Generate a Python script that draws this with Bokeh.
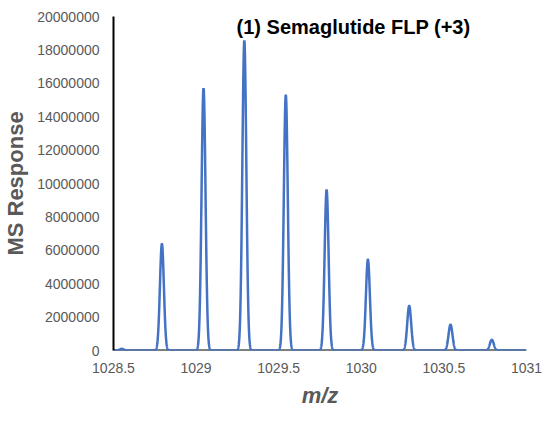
import numpy as np
from bokeh.plotting import figure
from bokeh.models import Range1d, FixedTicker, BasicTickFormatter, Label, Span
from bokeh.embed import file_html
from bokeh.resources import INLINE

# Peak centroids (m/z) and apex intensities
peak_mz = [1028.55, 1028.793, 1029.045, 1029.292, 1029.543, 1029.79, 1030.04, 1030.29, 1030.54, 1030.79]
peak_intensity = [100000, 6380000, 15700000, 18550000, 15300000, 9620000, 5450000, 2670000, 1550000, 640000]
peak_sigma = 0.012  # instrument peak width (profile shape)

x_ticks = [1028.5, 1029, 1029.5, 1030, 1030.5, 1031]
x_tick_labels = ["1028.5", "1029", "1029.5", "1030", "1030.5", "1031"]
y_ticks = [0, 2000000, 4000000, 6000000, 8000000, 10000000, 12000000,
           14000000, 16000000, 18000000, 20000000]

title_text = "(1) Semaglutide FLP (+3)"

# Profile spectrum built from the peak list
mz = np.linspace(x_ticks[0], x_ticks[-1], 5001)
resp = np.zeros_like(mz)
for c, h in zip(peak_mz, peak_intensity):
    resp += h * np.exp(-0.5 * ((mz - c) / peak_sigma) ** 2)

p = figure(frame_width=413, frame_height=334, output_backend="svg", toolbar_location=None,
           x_range=Range1d(x_ticks[0], x_ticks[-1]),
           y_range=Range1d(y_ticks[0], y_ticks[-1]),
           min_border_left=111, min_border_right=16, min_border_top=16, min_border_bottom=58)
p.outline_line_color = None
p.xgrid.visible = False
p.ygrid.visible = False
p.background_fill_color = "white"
p.border_fill_color = "white"

# baseline under the trace
p.add_layout(Span(location=0, dimension="width", line_color="black", line_width=2, level="underlay"))

p.line(mz, resp, line_color="#4472C4", line_width=2.5)

label_color = "#595959"
# x axis
p.xaxis.ticker = FixedTicker(ticks=x_ticks)
p.xaxis.major_label_overrides = {t: l for t, l in zip(x_ticks, x_tick_labels)}
p.xaxis.axis_line_color = None
p.xaxis.major_tick_line_color = None
p.xaxis.minor_tick_line_color = None
p.xaxis.major_tick_out = 0
p.xaxis.major_label_standoff = 12
p.xaxis.major_label_text_font = "Liberation Sans"
p.xaxis.major_label_text_font_size = "14px"
p.xaxis.major_label_text_color = label_color
p.xaxis.axis_label = "m/z"
p.xaxis.axis_label_text_font = "Liberation Sans"
p.xaxis.axis_label_text_font_size = "22px"
p.xaxis.axis_label_text_font_style = "bold italic"
p.xaxis.axis_label_text_color = label_color
p.xaxis.axis_label_standoff = 7

# y axis
p.yaxis.ticker = FixedTicker(ticks=y_ticks)
p.yaxis.formatter = BasicTickFormatter(use_scientific=False)
p.yaxis.axis_line_color = "black"
p.yaxis.axis_line_width = 2
p.yaxis.major_tick_line_color = None
p.yaxis.minor_tick_line_color = None
p.yaxis.major_tick_out = 0
p.yaxis.major_label_standoff = 14
p.yaxis.major_label_text_font = "Liberation Sans"
p.yaxis.major_label_text_font_size = "14px"
p.yaxis.major_label_text_color = label_color
p.yaxis.axis_label = "MS Response"
p.yaxis.axis_label_text_font = "Liberation Sans"
p.yaxis.axis_label_text_font_size = "22px"
p.yaxis.axis_label_text_font_style = "bold"
p.yaxis.axis_label_text_color = label_color
p.yaxis.axis_label_standoff = 6

p.add_layout(Label(x=1029.953, y=19400000, text=title_text,
                   text_font="Liberation Sans", text_font_size="20px",
                   text_font_style="bold", text_color="black",
                   text_align="center", text_baseline="middle"))

open("out.html", "w").write(file_html(p, INLINE))
